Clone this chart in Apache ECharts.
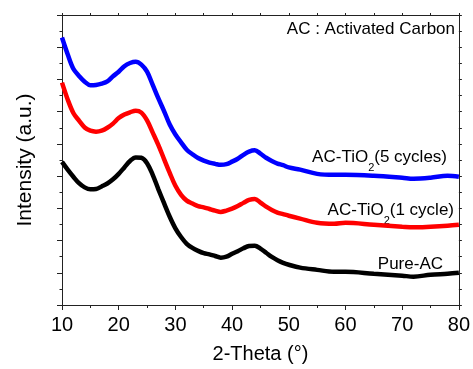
<!DOCTYPE html>
<html>
<head>
<meta charset="utf-8">
<script src="https://cdn.jsdelivr.net/npm/echarts@6/dist/echarts.min.js"></script>
<style>
html,body{margin:0;padding:0;background:#fff;}
#chart{width:473px;height:369px;}
</style>
</head>
<body>
<div id="chart"></div>
<script>
// 2-Theta positions (degrees)
const twoTheta = [10,11,12,13,14,15,16,17,18,19,20,21,22,23,24,25,26,27,28,29,30,31,32,33,34,35,36,37,38,39,40,41,42,43,44,45,46,47,48,49,50,52,55,58,60,65,70,72,75,78,80];
// Intensities (arbitrary units, offset stacked as in the figure)
const acTiO2FiveCycles = [830,778,733,711,693,682,683,687,694,710,724,741,751,755,746,724,683,641,602,560,529,505,482,468,456,448,442,438,435,437,445,454,466,476,480,470,457,447,439,434,427,420,407,404,404,401,395,392,395,401,398];
const acTiO2OneCycle = [690,638,596,572,551,541,538,541,550,563,580,591,598,603,597,573,535,496,453,410,370,342,324,315,307,303,298,293,289,293,299,307,317,326,329,318,305,295,287,282,277,268,255,252,255,249,243,241,243,246,249];
const pureAC = [444,420,398,378,365,359,360,368,377,390,407,427,447,458,457,440,404,359,316,274,238,211,190,177,168,161,157,152,147,150,159,167,176,183,184,175,162,149,139,131,125,116,109,103,103,97,91,88,94,97,100];
const xTicks = [10,20,30,40,50,60,70,80];

const FONT = 'Liberation Sans, Arial, sans-serif';
const AX = '#222';

function zip(ys){ return twoTheta.map((x,i)=>[x, ys[i]]); }

const chart = echarts.init(document.getElementById('chart'), null, {renderer:'canvas'});

const commonX = {
  type:'value', min: xTicks[0], max: xTicks[xTicks.length-1], interval: 10,
  splitLine:{show:false},
  axisLine:{show:true, onZero:false, lineStyle:{color:AX, width:1}},
};
const commonY = {
  type:'value', min:0, max:900, interval:100,
  splitLine:{show:false},
  axisLine:{show:true, onZero:false, lineStyle:{color:AX, width:1}},
  axisLabel:{show:false},
};

function mkSeries(name, ys, color){
  return {
    name, type:'line', data: zip(ys), xAxisIndex:0, yAxisIndex:0,
    showSymbol:false, smooth:0.35, animation:false,
    lineStyle:{color, width:4.5},
    itemStyle:{color}
  };
}

const mainFont = {fontSize:17, fontFamily:FONT, color:'#000', lineHeight:20, verticalAlign:'top'};
const subFont = {fontSize:11, fontFamily:FONT, color:'#000', lineHeight:11, padding:[13,0,0,0], verticalAlign:'top'};

chart.setOption({
  animation:false,
  backgroundColor:'#fff',
  grid:{left:62, right:14, top:15, bottom:58, containLabel:false},
  xAxis:[
    Object.assign({}, commonX, {
      position:'bottom',
      axisTick:{show:true, inside:false, length:5, lineStyle:{color:AX}},
      minorTick:{show:true, splitNumber:2, length:3, lineStyle:{color:AX}},
      axisLabel:{show:true, fontSize:20, color:'#000', fontFamily:FONT, margin:10, showMinLabel:true, showMaxLabel:true},
      name:'2-Theta (°)', nameLocation:'middle', nameGap:39,
      nameTextStyle:{fontSize:20, color:'#000', fontFamily:FONT}
    }),
    Object.assign({}, commonX, {
      position:'top',
      axisTick:{show:true, inside:false, length:2, lineStyle:{color:AX}},
      minorTick:{show:true, splitNumber:2, length:2, lineStyle:{color:AX}},
      axisLabel:{show:false}
    })
  ],
  yAxis:[
    Object.assign({}, commonY, {
      position:'left',
      axisTick:{show:true, inside:false, length:5, lineStyle:{color:AX}},
      minorTick:{show:true, splitNumber:2, length:2.5, lineStyle:{color:AX}},
      name:'Intensity (a.u.)', nameLocation:'middle', nameGap:26,
      nameTextStyle:{fontSize:21, color:'#000', fontFamily:FONT}
    }),
    Object.assign({}, commonY, {
      position:'right',
      axisTick:{show:true, inside:false, length:3, lineStyle:{color:AX}},
      minorTick:{show:true, splitNumber:2, length:3, lineStyle:{color:AX}}
    })
  ],
  series:[
    mkSeries('Pure-AC', pureAC, '#000000'),
    mkSeries('AC-TiO2(1 cycle)', acTiO2OneCycle, '#ff0000'),
    mkSeries('AC-TiO2(5 cycles)', acTiO2FiveCycles, '#0000ff')
  ],
  graphic:[
    {type:'text', x:455, y:29, style:{text:'AC : Activated Carbon', font:'17px '+FONT, fill:'#000', align:'right', verticalAlign:'middle'}},
    {type:'text', x:447, y:149, style:{text:'{a|AC-TiO}{s|2}{a|(5 cycles)}', rich:{a:mainFont, s:subFont}, align:'right', verticalAlign:'top'}},
    {type:'text', x:454, y:202, style:{text:'{a|AC-TiO}{s|2}{a|(1 cycle)}', rich:{a:mainFont, s:subFont}, align:'right', verticalAlign:'top'}},
    {type:'text', x:443, y:264.5, style:{text:'Pure-AC', font:'17px '+FONT, fill:'#000', align:'right', verticalAlign:'middle'}}
  ]
});
</script>
</body>
</html>
